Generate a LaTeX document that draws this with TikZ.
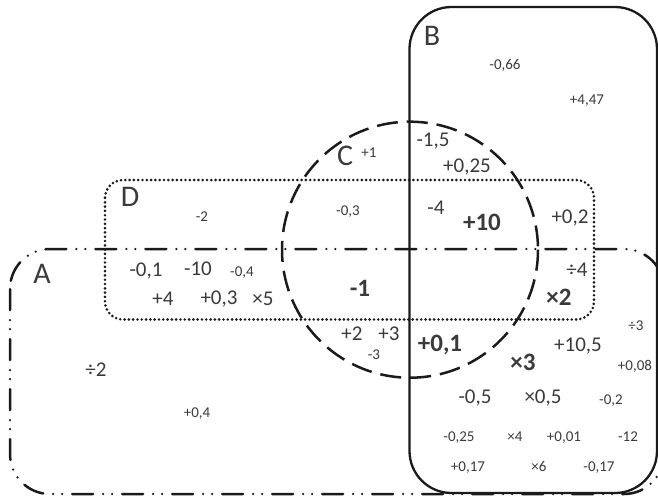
\documentclass[tikz,border=0pt]{standalone}
\usepackage{fontspec}
\setmainfont{Carlito}
\definecolor{ink}{HTML}{1A1A1A}
\definecolor{txt}{HTML}{3A3A3A}
\begin{document}
\begin{tikzpicture}[x=1pt,y=-1pt,
  base/.style={inner sep=0pt,text=txt,text height=0.63em,text depth=0pt},
  setlbl/.style={base,font=\fontsize{30}{30}\selectfont},
  sm/.style={base,font=\fontsize{15}{15}\selectfont},
  md/.style={base,font=\fontsize{21}{21}\selectfont},
  bd/.style={base,font=\fontsize{25}{25}\selectfont\bfseries},
  setA/.style={draw=ink,line width=2.5pt,line cap=round,
    dash pattern=on 21pt off 10pt on 0pt off 9pt on 0pt off 10pt,rounded corners=40pt},
  setB/.style={draw=ink,line width=2.3pt,rounded corners=42pt},
  setC/.style={draw=ink,line width=2.5pt,dash pattern=on 21pt off 9pt},
  setD/.style={draw=ink,line width=2.9pt,line cap=round,
    dash pattern=on 0pt off 4.3pt,rounded corners=18pt}]
\useasboundingbox (0,0) rectangle (658,496);
% sets
\draw[setA] (10,249) rectangle (664,494);
\draw[setD] (105,180) rectangle (594,319.5);
\draw[setC] (410,249.7) circle[radius=128];
\draw[setB] (409.5,7) rectangle (657,493);
% set labels
\node[setlbl] (lA) at (42,280) {A};
\node[setlbl] (lB) at (432,42) {B};
\node[setlbl] (lC) at (345,162) {C};
\node[setlbl] (lD) at (130,203) {D};
% small numbers
\node[sm] (n1) at (202,218) {-2};
\node[sm] (n2) at (242,273) {-0,4};
\node[sm] (n3) at (505,66) {-0,66};
\node[sm] (n4) at (587,101) {+4,47};
\node[sm] (n5) at (369,154) {+1};
\node[sm] (n6) at (348,212) {-0,3};
\node[sm] (n7) at (374,356) {-3};
\node[sm] (n8) at (636,327) {÷3};
\node[sm] (n9) at (635,367) {+0,08};
\node[sm] (n10) at (611,401) {-0,2};
\node[sm] (n11) at (459,438) {-0,25};
\node[sm] (n12) at (515,438) {×4};
\node[sm] (n13) at (564,438) {+0,01};
\node[sm] (n14) at (628,438) {-12};
\node[sm] (n15) at (468,468) {+0,17};
\node[sm] (n16) at (539,468) {×6};
\node[sm] (n17) at (599,468) {-0,17};
\node[sm] (n18) at (197,414) {+0,4};
% medium numbers
\node[md] (m1) at (146,273) {-0,1};
\node[md] (m2) at (198,272) {-10};
\node[md] (m3) at (163,302) {+4};
\node[md] (m4) at (219,301) {+0,3};
\node[md] (m5) at (263,302) {×5};
\node[md] (m6) at (433,143) {-1,5};
\node[md] (m7) at (467,169) {+0,25};
\node[md] (m8) at (436,211) {-4};
\node[md] (m9) at (570,220) {+0,2};
\node[md] (m10) at (577,273) {÷4};
\node[md] (m11) at (352,337) {+2};
\node[md] (m12) at (389,337) {+3};
\node[md] (m13) at (578,348) {+10,5};
\node[md] (m14) at (475,400) {-0,5};
\node[md] (m15) at (543,400) {×0,5};
\node[md] (m16) at (96,373) {÷2};
% bold numbers
\node[bd] (b1) at (482,227) {+10};
\node[bd] (b2) at (360,293) {-1};
\node[bd] (b3) at (559,302) {×2};
\node[bd] (b4) at (440,348) {+0,1};
\node[bd] (b5) at (523,367) {×3};
\end{tikzpicture}
\end{document}
